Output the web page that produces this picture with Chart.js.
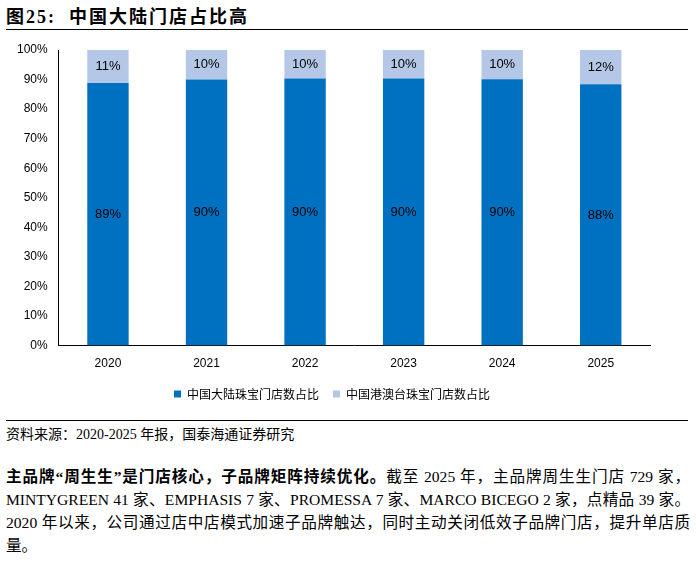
<!DOCTYPE html>
<html><head><meta charset="utf-8">
<script src="https://cdn.jsdelivr.net/npm/chart.js@4"></script>
<style>
body{margin:0;width:696px;height:579px;background:#fff;position:relative;font-family:"Liberation Serif","Noto Sans CJK SC",serif;overflow:hidden}
#title{position:absolute;left:6px;top:2px;font-size:18px;font-weight:bold;font-family:"Liberation Serif","Noto Sans CJK SC";letter-spacing:2px}
#l1{position:absolute;left:6px;right:8px;top:29px;border-top:1.5px solid #000}
#cw{position:absolute;left:0;top:36px;width:696px;height:374px}
#l2{position:absolute;left:6px;right:8px;top:420px;border-top:1px solid #000}
#src{position:absolute;left:6px;top:423px;font-size:14px}
#para{position:absolute;left:6px;top:465px;width:684px;font-size:15.6px;line-height:23px;text-align:justify}
</style></head><body>
<div id="title">图25:&nbsp; 中国大陆门店占比高</div>
<div id="l1"></div>
<div id="cw"><canvas id="c"></canvas></div>
<div id="l2"></div>
<div id="src">资料来源：2020-2025 年报，国泰海通证券研究</div>
<div id="para"><b>主品牌“周生生”是门店核心，子品牌矩阵持续优化。</b>截至 2025 年，主品牌周生生门店 729 家，MINTYGREEN 41 家、EMPHASIS 7 家、PROMESSA 7 家、MARCO BICEGO 2 家，点精品 39 家。2020 年以来，公司通过店中店模式加速子品牌触达，同时主动关闭低效子品牌门店，提升单店质量。</div>
<script>
const categories=["2020","2021","2022","2023","2024","2025"];
const mainland=[88.8,90.0,90.4,90.4,90.1,88.4];
const hkmo=[11.2,10.0,9.6,9.6,9.9,11.6];
const yTicks=[0,10,20,30,40,50,60,70,80,90,100];
const lbl={id:'lbl',afterDatasetsDraw(ch){const c=ch.ctx;c.save();c.font='13px "Liberation Sans",Arial';c.fillStyle='#000';c.textAlign='center';c.textBaseline='middle';
ch.data.datasets.forEach((d,i)=>{ch.getDatasetMeta(i).data.forEach((b,j)=>{c.fillText(Math.round(d.data[j])+'%',b.x,(b.y+b.base)/2);});});c.restore();}};
new Chart(document.getElementById('c'),{type:'bar',
data:{labels:categories,datasets:[
{label:'中国大陆珠宝门店数占比',data:mainland,backgroundColor:'#0070C0',barPercentage:0.42,categoryPercentage:1},
{label:'中国港澳台珠宝门店数占比',data:hkmo,backgroundColor:'#B4C7E7',barPercentage:0.42,categoryPercentage:1}]},
options:{responsive:true,maintainAspectRatio:false,animation:false,
layout:{padding:{left:14,right:46,top:14,bottom:0}},
plugins:{tooltip:{enabled:false},legend:{position:'bottom',labels:{boxWidth:7,boxHeight:7,padding:14,font:{size:12,family:'"Noto Sans CJK SC"'},color:'#000'}}},
scales:{x:{stacked:true,grid:{display:false},border:{color:'#000'},ticks:{color:'#000',font:{size:12,family:'"Liberation Sans"'}}},
y:{stacked:true,min:0,max:100,afterBuildTicks(a){a.ticks=yTicks.map(v=>({value:v}));},grid:{display:false,drawTicks:true},border:{color:'#000'},
ticks:{color:'#000',font:{size:12,family:'"Liberation Sans"'},callback:v=>v+'%'}}}},
plugins:[lbl]});
</script></body></html>
